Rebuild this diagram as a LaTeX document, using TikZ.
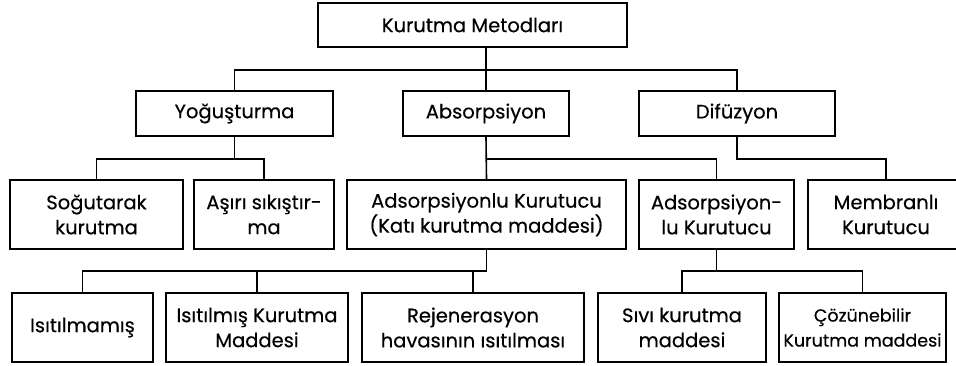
\documentclass[tikz,border=0pt]{standalone}
\usepackage{fontspec}
\setmainfont{Poppins}[FakeBold=0.4]
\usetikzlibrary{positioning}

\begin{document}
\begin{tikzpicture}[
    x=1pt, y=-1pt,
    kutu/.style={
        draw, line width=1.6pt, align=center, inner sep=0pt,
        minimum height=#1, font=\fontsize{19.5}{25}\selectfont
    },
    kutu/.default=69pt,
    hat/.style={line width=1.6pt}
  ]

  \useasboundingbox (0,0) rectangle (956,365);

  % levels of the buses
  \coordinate (b1) at (0,70);
  \coordinate (b2) at (0,159);
  \coordinate (b3) at (0,271);

  \node[kutu=44pt, minimum width=309pt] (kok) at (472.5,25) {Kurutma Metodları};

  \node[kutu=45pt, minimum width=197pt] (yog) at (234.5,113.5) {Yoğuşturma};
  \node[kutu=45pt, minimum width=166pt] (abs) at (486,113.5) {Absorpsiyon};
  \node[kutu=45pt, minimum width=196pt] (dif) at (737,113.5) {Difüzyon};

  \node[kutu, minimum width=173pt] (sog) at (96.5,214.5) {Soğutarak\\kurutma};
  \node[kutu, minimum width=140pt] (asi) at (264,214.5) {Aşırı sıkıştır-\\ma};
  \node[kutu, minimum width=279pt] (ads) at (486.5,214.5) {Adsorpsiyonlu Kurutucu\\(Katı kurutma maddesi)};
  \node[kutu, minimum width=155pt] (adl) at (716.5,214.5) {Adsorpsiyon-\\lu Kurutucu};
  \node[kutu, minimum width=156pt] (mem) at (886,214.5) {Membranlı\\Kurutucu};

  \node[kutu, minimum width=141pt] (isz) at (82.5,327.5) {Isıtılmamış};
  \node[kutu, minimum width=182pt] (isl) at (257,327.5) {Isıtılmış Kurutma\\Maddesi};
  \node[kutu, minimum width=222pt] (rej) at (473,327.5) {Rejenerasyon\\havasının ısıtılması};
  \node[kutu, minimum width=168pt] (siv) at (682,327.5) {Sıvı kurutma\\maddesi};
  \node[kutu, minimum width=167pt, font=\fontsize{17.5}{25}\selectfont] (coz) at (862.5,327.5) {Çözünebilir\\Kurutma maddesi};

  % first level
  \draw[hat] (abs.north) -- (abs.north |- kok.south);
  \draw[hat] (yog.north) |- (b1 -| dif.north) -- (dif.north);

  % second level
  \draw[hat] (yog.south) -- (yog.south |- b2);
  \draw[hat] (sog.north) |- (b2 -| asi.north) -- (asi.north);
  \draw[hat] (abs.south) -- (ads.north);
  \draw[hat] (abs.south |- b2) -| (adl.north);
  \draw[hat] (dif.south) |- (b2 -| mem.north) -- (mem.north);

  % third level
  \draw[hat] (ads.south) |- (b3 -| isz.north) -- (isz.north);
  \draw[hat] (isl.north) -- (isl.north |- b3);
  \draw[hat] (rej.north) -- (rej.north |- b3);
  \draw[hat] (adl.south) -- (adl.south |- b3);
  \draw[hat] (siv.north) |- (b3 -| coz.north) -- (coz.north);

\end{tikzpicture}
\end{document}
